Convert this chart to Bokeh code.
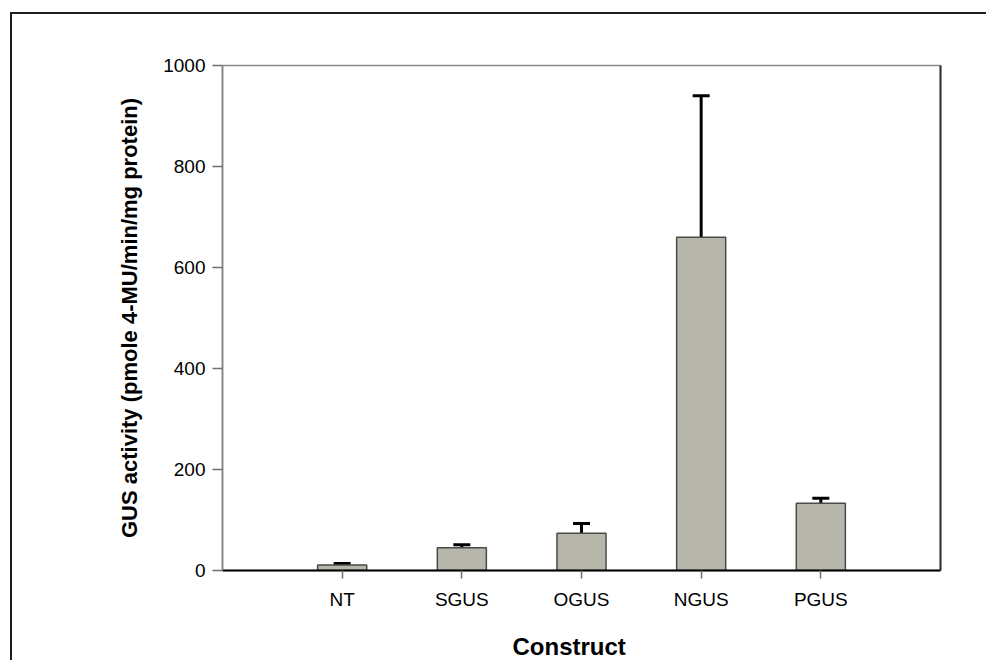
from bokeh.plotting import figure
from bokeh.models import (ColumnDataSource, Whisker, TeeHead, FixedTicker,
                          LinearAxis, Range1d, Title)
from bokeh.embed import file_html
from bokeh.resources import INLINE

# GUS activity per construct (mean and upper error)
constructs = ["NT", "SGUS", "OGUS", "NGUS", "PGUS"]
activity = [11, 45, 74, 660, 133]
error = [3, 6, 19, 280, 10]
y_ticks = [0, 200, 400, 600, 800, 1000]

xpos = list(range(1, len(constructs) + 1))
source = ColumnDataSource(dict(
    x=xpos,
    top=activity,
    upper=[a + e for a, e in zip(activity, error)],
))

FONT = "Liberation Sans"

p = figure(
    frame_width=718, frame_height=505,
    x_range=Range1d(0, len(constructs) + 1), y_range=Range1d(0, 1000),
    output_backend="svg", toolbar_location=None,
    min_border_left=210, min_border_right=46,
    min_border_top=51, min_border_bottom=90,
    background_fill_color="white", border_fill_color="white",
)
p.margin = (12, 0, 0, 10)
p.styles = {"border-left": "2px solid #1e1e1e", "border-top": "2px solid #1e1e1e"}

p.xgrid.visible = False
p.ygrid.visible = False
p.outline_line_color = "#8c8c8c"
p.outline_line_width = 1.5

# bars
p.vbar(x="x", top="top", bottom=0, width=0.41, source=source,
       fill_color="#b6b6aa", line_color="#4a4a4a", line_width=1.5)

# upward error bars
whisk = Whisker(base="x", lower="top", upper="upper", source=source,
                line_color="black", line_width=3,
                upper_head=TeeHead(size=17, line_color="black", line_width=3),
                lower_head=None)
p.add_layout(whisk)

# x axis
xa = p.xaxis[0]
xa.ticker = FixedTicker(ticks=xpos)
xa.major_label_overrides = {i: c for i, c in zip(xpos, constructs)}
xa.axis_line_color = "black"
xa.axis_line_width = 2
xa.major_tick_line_color = "#707070"
xa.major_tick_line_width = 1.5
xa.major_tick_out = 8
xa.major_tick_in = 0
xa.minor_tick_line_color = None
xa.major_label_text_font = FONT
xa.major_label_text_font_size = "19px"
xa.major_label_text_color = "black"
xa.major_label_standoff = 10

# x axis title as a panel below the axis, a little left of centre
p.add_layout(Title(
    text="Construct", align="left", offset=290, standoff=36,
    text_font=FONT, text_font_style="bold", text_font_size="24px",
    text_color="black",
), "below")

# y axis
ya = p.yaxis[0]
ya.ticker = FixedTicker(ticks=y_ticks)
ya.axis_line_color = "#808080"
ya.axis_line_width = 1.5
ya.major_tick_line_color = "#707070"
ya.major_tick_line_width = 1.5
ya.major_tick_out = 10
ya.major_tick_in = 0
ya.minor_tick_line_color = None
ya.major_label_text_font = FONT
ya.major_label_text_font_size = "19px"
ya.major_label_text_color = "black"
ya.major_label_standoff = 7
ya.axis_label = "GUS activity (pmole 4-MU/min/mg protein)"
ya.axis_label_text_font = FONT
ya.axis_label_text_font_style = "bold"
ya.axis_label_text_font_size = "22px"
ya.axis_label_text_color = "black"
ya.axis_label_standoff = 18

# dark right-hand border
right = LinearAxis(ticker=FixedTicker(ticks=[]), axis_line_color="#333333",
                   axis_line_width=2, major_label_text_font_size="0px",
                   major_tick_line_color=None, minor_tick_line_color=None)
p.add_layout(right, "right")

open("out.html", "w").write(file_html(p, INLINE))
